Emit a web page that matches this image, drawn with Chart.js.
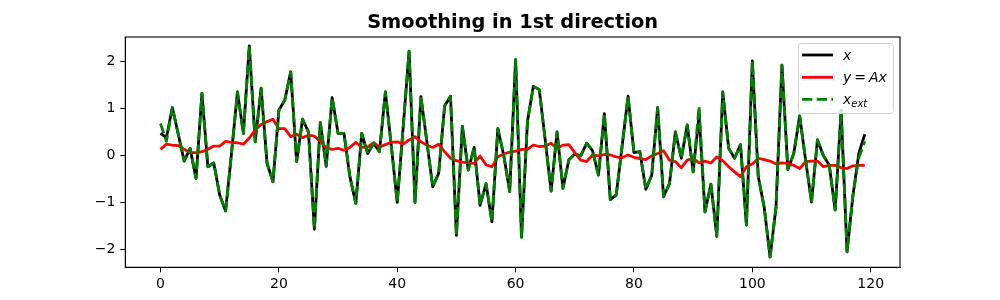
<!DOCTYPE html>
<html>
<head>
<meta charset="utf-8">
<script src="https://cdn.jsdelivr.net/npm/chart.js@4"></script>
<style>
  html, body { margin: 0; padding: 0; background: #fff; }
</style>
</head>
<body>
<canvas id="smoothChart" width="1000" height="300"></canvas>
<script>
const titleText = 'Smoothing in 1st direction';
const xTicks = [0, 20, 40, 60, 80, 100, 120];
const yTicks = [-2, -1, 0, 1, 2];

// x (black)
const xValues = [
    0.47, 0.38, 1.02, 0.45, -0.12, 0.15, -0.49, 1.32, -0.24, -0.16,
    -0.84, -1.18, 0.05, 1.35, 0.47, 2.33, 0.29, 1.43, -0.17, -0.56,
    0.96, 1.18, 1.78, -0.13, 0.77, 0.50, -1.57, 0.70, -0.23, 1.23,
    0.47, 0.47, -0.45, -1.02, 0.47, 0.04, 0.26, 0.08, 1.35, 0.20,
    -1.00, 0.60, 2.22, -1.00, 1.25, 0.30, -0.67, -0.38, 1.05, 1.26,
    -1.70, 0.62, -0.31, 0.17, -1.06, -0.60, -1.41, 0.57, 0.00, -0.77,
    2.04, -1.74, 0.72, 1.47, 1.40, 0.33, -0.76, 0.50, -0.70, -0.09,
    0.03, -0.01, 0.26, 0.10, -0.42, 0.89, -0.94, -0.84, 0.20, 1.26,
    0.06, 0.08, -0.72, -0.42, 1.02, -0.88, -0.60, 0.50, -0.06, 0.65,
    -0.35, 0.86, -1.20, -0.61, -1.72, 1.35, 0.15, -0.06, 0.23, -1.48,
    2.01, -0.45, -1.10, -2.16, -1.10, 1.92, -0.30, 0.04, 0.84, -0.10,
    -0.99, 0.33, 0.00, -0.21, -1.16, 0.96, -2.05, -0.85, 0.05, 0.45
];

// y = Ax (red)
const yValues = [
    0.13, 0.24, 0.22, 0.21, 0.13, 0.06, 0.06, 0.08, 0.13, 0.20,
    0.20, 0.30, 0.28, 0.27, 0.24, 0.37, 0.54, 0.66, 0.72, 0.77,
    0.57, 0.57, 0.40, 0.45, 0.38, 0.43, 0.41, 0.30, 0.16, 0.13,
    0.15, 0.11, 0.17, 0.28, 0.17, 0.18, 0.27, 0.18, 0.23, 0.28,
    0.29, 0.24, 0.33, 0.40, 0.29, 0.22, 0.17, 0.24, 0.08, -0.06,
    -0.11, -0.14, -0.16, -0.17, -0.01, -0.20, -0.24, -0.03, 0.03, 0.07,
    0.09, 0.13, 0.13, 0.22, 0.19, 0.20, 0.26, 0.15, 0.22, 0.23,
    0.06, -0.10, -0.13, 0.01, -0.01, 0.02, 0.01, -0.03, -0.05, 0.01,
    -0.04, -0.07, -0.09, -0.01, 0.04, 0.10, -0.10, -0.13, -0.26, -0.10,
    -0.06, -0.16, -0.12, -0.16, -0.03, -0.11, -0.24, -0.35, -0.45, -0.24,
    -0.18, -0.06, -0.09, -0.12, -0.18, -0.16, -0.17, -0.21, -0.28, -0.13,
    -0.12, -0.12, -0.24, -0.21, -0.21, -0.26, -0.28, -0.22, -0.21, -0.21
];

// x_ext (green dashed)
const xExtValues = [
    0.68, 0.30, 1.02, 0.45, -0.12, 0.15, -0.49, 1.32, -0.24, -0.16,
    -0.84, -1.18, 0.05, 1.35, 0.47, 2.33, 0.29, 1.43, -0.17, -0.56,
    0.96, 1.18, 1.78, -0.13, 0.77, 0.50, -1.57, 0.70, -0.23, 1.23,
    0.47, 0.47, -0.45, -1.02, 0.47, 0.04, 0.26, 0.08, 1.35, 0.20,
    -1.00, 0.60, 2.22, -1.00, 1.25, 0.30, -0.67, -0.38, 1.05, 1.26,
    -1.70, 0.62, -0.31, 0.17, -1.06, -0.60, -1.41, 0.57, 0.00, -0.77,
    2.04, -1.74, 0.72, 1.47, 1.40, 0.33, -0.76, 0.50, -0.70, -0.09,
    0.03, -0.01, 0.26, 0.10, -0.42, 0.89, -0.94, -0.84, 0.20, 1.26,
    0.06, 0.08, -0.72, -0.42, 1.02, -0.88, -0.60, 0.50, -0.06, 0.65,
    -0.35, 1.05, -1.20, -0.61, -1.72, 1.35, 0.15, -0.06, 0.23, -1.48,
    2.01, -0.45, -1.10, -2.16, -1.10, 1.92, -0.30, 0.04, 0.84, -0.10,
    -0.99, 0.33, 0.00, -0.21, -1.16, 0.96, -2.05, -0.85, -0.05, 0.30
];

const toPoints = arr => arr.map((v, i) => ({ x: i, y: v }));
const minus = v => String(v).replace('-', '\u2212');
const LW = 2.8;
const DASH = [10.3, 4.4];

// frame, title and legend drawn like matplotlib
const framePlugin = {
    id: 'framePlugin',
    afterDraw(chart) {
        const c = chart.ctx;
        const a = chart.chartArea;
        c.save();
        c.strokeStyle = '#000';
        c.lineWidth = 1.1;
        c.strokeRect(a.left, a.top, a.right - a.left, a.bottom - a.top);

        c.fillStyle = '#000';
        c.font = 'bold 19.4px "DejaVu Sans"';
        c.textAlign = 'center';
        c.textBaseline = 'alphabetic';
        c.fillText(titleText, (a.left + a.right) / 2, 27.5);

        // legend box
        const lx = 798.5, ly = 43.5, lw = 95, lh = 70;
        c.beginPath();
        c.roundRect(lx, ly, lw, lh, 3);
        c.fillStyle = 'rgba(255,255,255,0.8)';
        c.fill();
        c.strokeStyle = '#d0d0d0';
        c.lineWidth = 1;
        c.stroke();

        const rows = [55, 77.3, 99.3];
        const hx0 = 802, hx1 = 833, tx = 843;
        c.lineWidth = LW;
        c.strokeStyle = '#000';
        c.beginPath(); c.moveTo(hx0, rows[0]); c.lineTo(hx1, rows[0]); c.stroke();
        c.strokeStyle = '#ff0000';
        c.beginPath(); c.moveTo(hx0, rows[1]); c.lineTo(hx1, rows[1]); c.stroke();
        c.strokeStyle = '#008000';
        c.setLineDash(DASH);
        c.beginPath(); c.moveTo(hx0, rows[2]); c.lineTo(hx1, rows[2]); c.stroke();
        c.setLineDash([]);

        c.fillStyle = '#000';
        c.textAlign = 'left';
        c.textBaseline = 'alphabetic';
        const it = 'italic 14px "DejaVu Sans"';
        const up = '14px "DejaVu Sans"';
        const base = r => r + 5;
        c.font = it;
        c.fillText('x', tx, base(rows[0]));

        let px = tx;
        c.font = it; c.fillText('y', px, base(rows[1])); px += c.measureText('y').width + 3;
        c.font = up; c.fillText('=', px, base(rows[1])); px += c.measureText('=').width + 3;
        c.font = it; c.fillText('Ax', px, base(rows[1]));

        c.font = it;
        c.fillText('x', tx, base(rows[2]));
        const w = c.measureText('x').width;
        c.font = 'italic 10px "DejaVu Sans"';
        c.fillText('ext', tx + w, base(rows[2]) + 3);
        c.restore();
    }
};

const ctx = document.getElementById('smoothChart').getContext('2d');
const smoothChart = new Chart(ctx, {
    type: 'line',
    data: {
        datasets: [{
            label: 'x',
            data: toPoints(xValues),
            borderColor: '#000000',
            borderWidth: LW,
            borderJoinStyle: 'round',
            pointRadius: 0,
            tension: 0,
            order: 3
        }, {
            label: 'y = Ax',
            data: toPoints(yValues),
            borderColor: '#ff0000',
            borderWidth: LW,
            borderJoinStyle: 'round',
            pointRadius: 0,
            tension: 0,
            order: 2
        }, {
            label: 'x_ext',
            data: toPoints(xExtValues),
            borderColor: '#008000',
            borderWidth: LW,
            borderDash: DASH,
            borderJoinStyle: 'round',
            pointRadius: 0,
            tension: 0,
            order: 1
        }]
    },
    options: {
        responsive: false,
        animation: false,
        devicePixelRatio: 1,
        layout: {
            padding: { top: 37, right: 100, bottom: 0, left: 0 }
        },
        plugins: {
            legend: { display: false },
            tooltip: { enabled: false }
        },
        scales: {
            x: {
                type: 'linear',
                min: -5.95,
                max: 124.95,
                afterBuildTicks: s => { s.ticks = xTicks.map(v => ({ value: v })); },
                afterFit: s => { s.height = 32.7; },
                grid: {
                    drawOnChartArea: false,
                    drawTicks: true,
                    tickLength: 5,
                    color: '#000'
                },
                border: { display: true, color: '#000', width: 1 },
                ticks: {
                    color: '#000',
                    font: { family: 'DejaVu Sans', size: 14 },
                    padding: 4,
                    maxRotation: 0,
                    autoSkip: false,
                    callback: v => minus(v)
                }
            },
            y: {
                min: -2.38,
                max: 2.52,
                afterBuildTicks: s => { s.ticks = yTicks.map(v => ({ value: v })); },
                afterFit: s => { s.width = 125.3; },
                grid: {
                    drawOnChartArea: false,
                    drawTicks: true,
                    tickLength: 5,
                    color: '#000'
                },
                border: { display: true, color: '#000', width: 1 },
                ticks: {
                    color: '#000',
                    font: { family: 'DejaVu Sans', size: 14 },
                    padding: 5,
                    callback: v => minus(v)
                }
            }
        }
    },
    plugins: [framePlugin]
});
</script>
</body>
</html>
